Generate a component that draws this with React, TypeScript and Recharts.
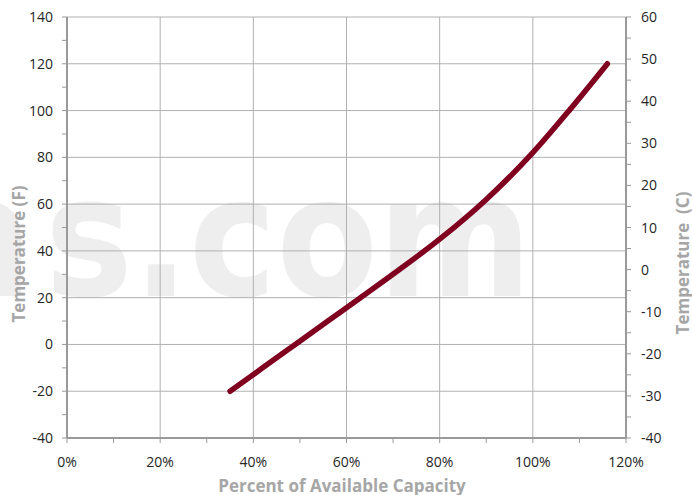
import React from 'react';
import { LineChart, Line, XAxis, YAxis, ReferenceLine, Customized } from 'recharts';

const capacityPct = [35, 42, 49, 56, 63, 71, 80, 90, 100, 108, 116];
const tempF = [-20, -10, 0, 10, 20, 31.5, 45, 62, 82, 100.5, 120];

const xTicks = [0, 10, 20, 30, 40, 50, 60, 70, 80, 90, 100, 110, 120];
const xGrid = [20, 40, 60, 80, 100];
const fTicks = [-40, -30, -20, -10, 0, 10, 20, 30, 40, 50, 60, 70, 80, 90, 100, 110, 120, 130, 140];
const fGrid = [-20, 0, 20, 40, 60, 80, 100, 120, 140];
const cTicks = [-40, -35, -30, -25, -20, -15, -10, -5, 0, 5, 10, 15, 20, 25, 30, 35, 40, 45, 50, 55, 60];
const cDomain = [-40, 60];

const data = capacityPct.map((c, i) => ({ x: c, f: tempF[i] }));

const FONT = '"Open Sans", "DejaVu Sans", sans-serif';
const TICK_COLOR = '#999999';
const LABEL_COLOR = '#262626';
const TITLE_COLOR = '#a6a6a6';

const LeftTick = (props: any) => {
  const { x, y, payload } = props;
  const v = payload.value;
  return (
    <g>
      <line x1={x - 5} x2={x} y1={y} y2={y} stroke={TICK_COLOR} strokeWidth={1} />
      {v % 20 === 0 && (
        <text x={x - 14} y={y} dy="0.36em" textAnchor="end" fontFamily={FONT} fontSize={14} fill={LABEL_COLOR}>
          {v}
        </text>
      )}
    </g>
  );
};

const RightTick = (props: any) => {
  const { x, y, payload } = props;
  const v = payload.value;
  return (
    <g>
      <line x1={x} x2={x + 5} y1={y} y2={y} stroke={TICK_COLOR} strokeWidth={1} />
      {v % 10 === 0 && (
        <text x={x + 15} y={y} dy="0.36em" textAnchor="start" fontFamily={FONT} fontSize={14} fill={LABEL_COLOR}>
          {v}
        </text>
      )}
    </g>
  );
};

const BottomTick = (props: any) => {
  const { x, y, payload } = props;
  const v = payload.value;
  return (
    <g>
      <line x1={x} x2={x} y1={y} y2={y + 5} stroke={TICK_COLOR} strokeWidth={1} />
      {v % 20 === 0 && (
        <text x={x} y={y + 29} textAnchor="middle" fontFamily={FONT} fontSize={14} fill={LABEL_COLOR}>
          {`${v}%`}
        </text>
      )}
    </g>
  );
};

const Overlay = () => (
  <g>
    <g fill="#d6d6d6" fillOpacity={0.42} fontFamily='"DejaVu Sans", sans-serif' fontWeight={700} fontSize={168}>
      <text x={34} y={296} textAnchor="end">n</text>
      <text x={45} y={296} textLength={487} lengthAdjust="spacingAndGlyphs">s.com</text>
    </g>
    <text x={342} y={492} textAnchor="middle" fontFamily={FONT} fontWeight={700} fontSize={17} fill={TITLE_COLOR}>
      Percent of Available Capacity
    </text>
    <text
      x={25}
      y={254}
      textAnchor="middle"
      transform="rotate(-90, 25, 254)"
      fontFamily={FONT}
      fontWeight={700}
      fontSize={17}
      fill={TITLE_COLOR}
    >
      Temperature (F)
    </text>
    <text
      x={689}
      y={263}
      textAnchor="middle"
      transform="rotate(-90, 689, 263)"
      fontFamily={FONT}
      fontWeight={700}
      fontSize={17}
      fill={TITLE_COLOR}
      style={{ whiteSpace: 'pre' }}
    >
      {'Temperature  (C)'}
    </text>
  </g>
);

export default function App() {
  return (
    <div style={{ position: 'absolute', left: 0, top: 0, width: 692, height: 495, background: '#ffffff' }}>
      <LineChart width={692} height={495} data={data} margin={{ top: 17, right: 0, bottom: 0, left: 0 }}>
        <XAxis
          dataKey="x"
          type="number"
          domain={[0, 120]}
          ticks={xTicks}
          interval={0}
          height={57}
          tickSize={0}
          tickMargin={0}
          tickLine={false}
          axisLine={{ stroke: '#9a9a9a', strokeWidth: 2 }}
          tick={<BottomTick />}
        />
        <YAxis
          yAxisId="left"
          orientation="left"
          type="number"
          domain={[-40, 140]}
          ticks={fTicks}
          interval={0}
          width={67}
          tickSize={0}
          tickMargin={0}
          tickLine={false}
          axisLine={{ stroke: '#9a9a9a', strokeWidth: 2 }}
          tick={<LeftTick />}
        />
        <YAxis
          yAxisId="right"
          orientation="right"
          type="number"
          domain={cDomain}
          allowDataOverflow
          ticks={cTicks}
          interval={0}
          width={66}
          tickSize={0}
          tickMargin={0}
          tickLine={false}
          axisLine={{ stroke: '#9a9a9a', strokeWidth: 2 }}
          tick={<RightTick />}
        />
        {cDomain.map((v) => (
          <ReferenceLine key={`c${v}`} yAxisId="right" y={v} ifOverflow="extendDomain" stroke="none" strokeOpacity={0} />
        ))}
        {fGrid.map((v) => (
          <ReferenceLine key={`h${v}`} yAxisId="left" y={v} stroke="#b0b0b0" strokeWidth={1} />
        ))}
        {xGrid.map((v) => (
          <ReferenceLine key={`v${v}`} yAxisId="left" x={v} stroke="#b0b0b0" strokeWidth={1} />
        ))}
        <Line
          yAxisId="left"
          dataKey="f"
          type="monotone"
          stroke="#800020"
          strokeWidth={5.5}
          strokeLinecap="round"
          strokeLinejoin="round"
          dot={false}
          activeDot={false}
          isAnimationActive={false}
        />
        <Customized component={Overlay} />
      </LineChart>
    </div>
  );
}
